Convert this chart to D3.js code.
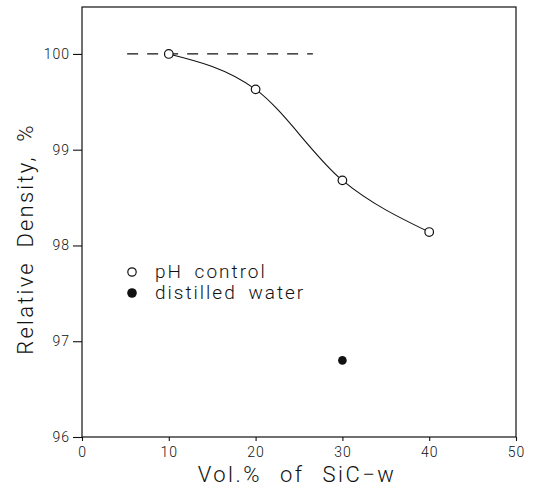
<!DOCTYPE html>
<html>
<head>
<meta charset="utf-8">
<script src="https://cdn.jsdelivr.net/npm/d3@7"></script>
<style>
  body { margin: 0; background: #fff; }
  svg { display: block; }
  text { font-family: Roboto, "DejaVu Sans", sans-serif; font-weight: 300; fill: #111; }
</style>
</head>
<body>
<div id="result"></div>
<script>
/* data */
var volPct = [10, 20, 30, 40];
var phControl = [100, 99.63, 98.68, 98.14];
var waterVol = [30];
var distilledWater = [96.8];
var refLineX = [5.2, 26.6];   // dashed 100 % reference
var refLineY = 100;
var xTicks = [0, 10, 20, 30, 40, 50];
var yTicks = [96, 97, 98, 99, 100];

var width = 536, height = 491;
var margin = {top: 7, right: 20, bottom: 54, left: 82};

var svg = d3.select("#result").append("svg")
    .attr("width", width)
    .attr("height", height);

var x = d3.scaleLinear().domain([0, 50]).range([margin.left, width - margin.right]);
var y = d3.scaleLinear().domain([96, 100.49]).range([height - margin.bottom, margin.top]);

// frame
svg.append("rect")
    .attr("x", x(0)).attr("y", y(100.49))
    .attr("width", x(50) - x(0)).attr("height", y(96) - y(100.49))
    .attr("fill", "none").attr("stroke", "#111").attr("stroke-width", 1.2);

// axes
var xAxis = svg.append("g")
    .attr("transform", "translate(0," + y(96) + ")")
    .call(d3.axisBottom(x).tickValues(xTicks).tickFormat(d3.format("d")).tickSize(4).tickPadding(6));
var yAxis = svg.append("g")
    .attr("transform", "translate(" + x(0) + ",0)")
    .call(d3.axisLeft(y).tickValues(yTicks).tickFormat(d3.format("d")).tickSize(9).tickPadding(3));

[xAxis, yAxis].forEach(function (g) {
    g.select(".domain").remove();
    g.selectAll("line").attr("stroke", "#111").attr("stroke-width", 1.1);
    g.selectAll("text")
        .style("font-family", "Roboto, 'DejaVu Sans', sans-serif")
        .style("font-weight", 300)
        .style("font-size", "14px")
        .style("letter-spacing", "1px")
        .attr("fill", "#111");
});

// dashed reference line
svg.append("line")
    .attr("x1", x(refLineX[0])).attr("x2", x(refLineX[1]))
    .attr("y1", y(refLineY)).attr("y2", y(refLineY))
    .attr("stroke", "#111").attr("stroke-width", 1.3)
    .attr("stroke-dasharray", "11,9");

// smooth curve through pH control points
var pts = volPct.map(function (v, i) { return [v, phControl[i]]; });
var line = d3.line()
    .x(function (d) { return x(d[0]); })
    .y(function (d) { return y(d[1]); })
    .curve(d3.curveMonotoneX);

svg.append("path")
    .datum(pts)
    .attr("d", line)
    .attr("fill", "none")
    .attr("stroke", "#111")
    .attr("stroke-width", 1.1);

// open circles
svg.selectAll("circle.ph").data(pts).enter().append("circle")
    .attr("class", "ph")
    .attr("cx", function (d) { return x(d[0]); })
    .attr("cy", function (d) { return y(d[1]); })
    .attr("r", 4.3)
    .attr("fill", "#fff")
    .attr("stroke", "#111")
    .attr("stroke-width", 1.2);

// filled dot
svg.selectAll("circle.dw").data(waterVol).enter().append("circle")
    .attr("class", "dw")
    .attr("cx", function (d) { return x(d); })
    .attr("cy", function (d, i) { return y(distilledWater[i]); })
    .attr("r", 4.3)
    .attr("fill", "#111");

// legend
var legend = svg.append("g");
legend.append("circle").attr("cx", 132).attr("cy", 272).attr("r", 4.2)
    .attr("fill", "#fff").attr("stroke", "#111").attr("stroke-width", 1.2);
legend.append("text").attr("x", 155).attr("y", 278)
    .style("font-size", "19px").style("letter-spacing", "2px").style("word-spacing", "5px")
    .text("pH control");
legend.append("circle").attr("cx", 132).attr("cy", 293).attr("r", 4.8)
    .attr("fill", "#111");
legend.append("text").attr("x", 155).attr("y", 299)
    .style("font-size", "19px").style("letter-spacing", "2px").style("word-spacing", "5px")
    .text("distilled water");

// axis titles
svg.append("text")
    .attr("x", 297).attr("y", 482)
    .attr("text-anchor", "middle")
    .style("font-size", "22px").style("letter-spacing", "2.5px").style("word-spacing", "10px")
    .text("Vol.% of SiC\u2212w");

svg.append("text")
    .attr("transform", "translate(33," + 239 + ") rotate(-90)")
    .attr("text-anchor", "middle")
    .style("font-size", "22px").style("letter-spacing", "2.2px").style("word-spacing", "6px")
    .text("Relative Density, %");
</script>
</body>
</html>
